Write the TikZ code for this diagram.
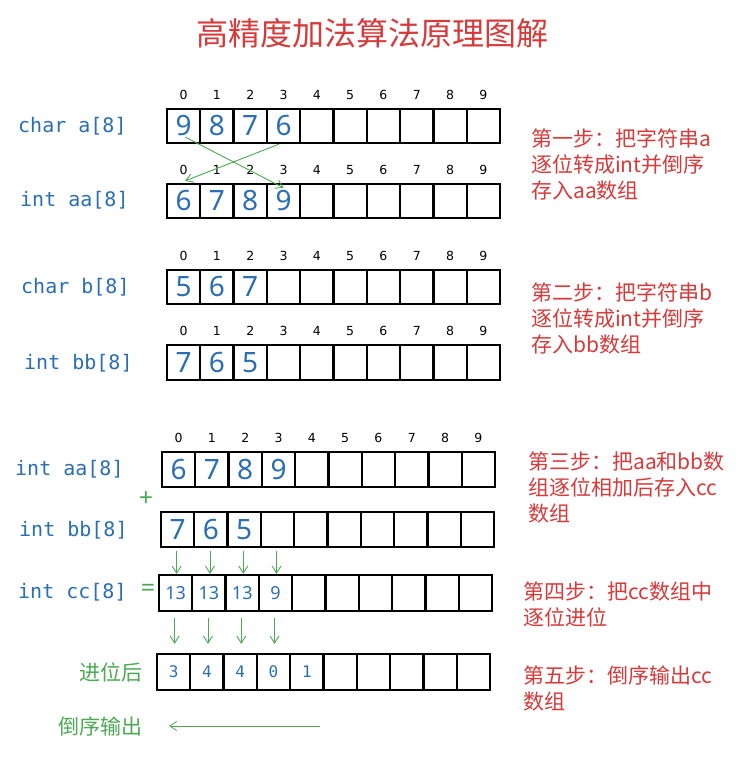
\documentclass[tikz,border=0pt]{standalone}
\usepackage{fontspec}
\setmainfont{Noto Sans}
\newfontfamily\cjk{Noto Sans CJK SC}
\newfontfamily\monof{DejaVu Sans Mono}
\newfontfamily\idxf{DejaVu Sans}
\usetikzlibrary{arrows.meta,calc}
\definecolor{lblue}{RGB}{42,110,180}
\definecolor{lred}{RGB}{214,58,58}
\definecolor{lgreen}{RGB}{76,170,84}
\tikzset{
  cellbox/.style={rectangle,draw=black,line width=2.3pt,minimum width=33.3pt,inner sep=0pt},
  bigdigit/.style={text=lblue,inner sep=0pt,font=\fontsize{28}{28}\selectfont},
  middigit/.style={text=lblue,inner sep=0pt,font=\fontsize{18}{18}\selectfont},
  monodigit/.style={text=lblue,inner sep=0pt,font=\monof\fontsize{16}{16}\selectfont},
  idx/.style={inner sep=0pt,text=black,font=\idxf\fontsize{12.5}{12.5}\selectfont},
  lbl/.style={anchor=west,inner sep=0pt,text=lblue,font=\monof\fontsize{20}{20}\selectfont},
  glbl/.style={anchor=east,inner sep=0pt,text=lgreen,font=\cjk\fontsize{21}{21}\selectfont},
  gsym/.style={inner sep=0pt,text=lgreen,font=\bfseries\fontsize{25}{25}\selectfont},
  steptext/.style={anchor=west,align=left,inner sep=0pt,text=lred,font=\cjk\fontsize{21}{26}\selectfont},
  garrow/.style={draw=lgreen,line width=0.9pt,-{Straight Barb[length=7pt,width=9pt]}},
}
\newcommand\drawrow[4]{% name, x0, ytop, height
  \foreach \i in {0,...,9}{
    \node[cellbox,minimum height=#4pt] (#1c\i) at ({#2+33.3*\i+16.65},{#3+#4/2}) {};
  }
}
\newcommand\drawidx[1]{%
  \foreach \i in {0,...,9}{
    \node[idx] (#1i\i) at ([yshift=12.5pt]#1c\i.north) {\i};
  }
}
\begin{document}
\begin{tikzpicture}[x=1pt,y=-1pt]
\useasboundingbox[fill=white] (0,0) rectangle (748,771);
% title
\node[inner sep=0pt,text=lred,font=\cjk\fontsize{32}{32}\selectfont] (title) at (372,33) {高精度加法算法原理图解};

% rows
\drawrow{r1}{167}{109}{34}
\drawrow{r2}{167}{184}{34}
\drawrow{r3}{167}{270}{34}
\drawrow{r4}{167}{345}{35}
\drawrow{r5}{162}{452}{35}
\drawrow{r6}{161}{512}{35}
\drawrow{r7}{159}{575}{36}
\drawrow{r8}{157}{654}{36}
\drawidx{r1}\drawidx{r2}\drawidx{r3}\drawidx{r4}\drawidx{r5}

% digits
\foreach \v [count=\i from 0] in {9,8,7,6} \node[bigdigit] (r1d\i) at (r1c\i) {\v};
\foreach \v [count=\i from 0] in {6,7,8,9} \node[bigdigit] (r2d\i) at (r2c\i) {\v};
\foreach \v [count=\i from 0] in {5,6,7} \node[bigdigit] (r3d\i) at (r3c\i) {\v};
\foreach \v [count=\i from 0] in {7,6,5} \node[bigdigit] (r4d\i) at (r4c\i) {\v};
\foreach \v [count=\i from 0] in {6,7,8,9} \node[bigdigit] (r5d\i) at (r5c\i) {\v};
\foreach \v [count=\i from 0] in {7,6,5} \node[bigdigit] (r6d\i) at (r6c\i) {\v};
\foreach \v [count=\i from 0] in {13,13,13,9} \node[middigit] (r7d\i) at (r7c\i) {\v};
\foreach \v [count=\i from 0] in {3,4,4,0,1} \node[monodigit] (r8d\i) at (r8c\i) {\v};

% labels
\node[lbl] (la) at (18,126) {char a[8]};
\node[lbl] (laa) at (20,200) {int aa[8]};
\node[lbl] (lb) at (21,287) {char b[8]};
\node[lbl] (lbb) at (24,363) {int bb[8]};
\node[lbl] (laa2) at (15,469) {int aa[8]};
\node[gsym] (plus) at (146,499) {+};
\node[lbl] (lbb2) at (19,530) {int bb[8]};
\node[lbl] (lcc) at (18,592) {int cc[8]};
\node[gsym] (eq) at (148,590) {=};
\node[glbl] (jw) at (143,672) {进位后};
\node[glbl] (out) at (143,726) {倒序输出};

% step texts
\node[steptext] (s1) at (531,164) {第一步：把字符串a\\逐位转成int并倒序\\存入aa数组};
\node[steptext] (s2) at (531,318) {第二步：把字符串b\\逐位转成int并倒序\\存入bb数组};
\node[steptext] (s3) at (528,487) {第三步：把aa和bb数\\组逐位相加后存入cc\\数组};
\node[steptext] (s4) at (523,604) {第四步：把cc数组中\\逐位进位};
\node[steptext] (s5) at (523,688) {第五步：倒序输出cc\\数组};

% crossing arrows
\draw[garrow] ([xshift=1.5pt,yshift=-11pt]r1c0.center) -- ([yshift=-5pt]r2c3.north);
\draw[garrow] ([xshift=-4.5pt]r1c3.south) -- ([xshift=1.5pt,yshift=2pt]r2c0.north);

% vertical arrows
\foreach \i in {0,...,3}{
  \draw[garrow] ([xshift=-1pt,yshift=-3pt]r6c\i.south) -- ($(r6c\i.south |- r7c\i.north)+(-1,0)$);
  \draw[garrow] ([xshift=-1pt,yshift=-6pt]r7c\i.south) -- ($(r7c\i.south |- r8c\i.north)+(-1,-9)$);
}
% output arrow
\coordinate (outstart) at (320,726);
\coordinate (outend) at (169,726);
\draw[garrow,line width=0.8pt] (outstart) -- (outend);
\end{tikzpicture}
\end{document}
